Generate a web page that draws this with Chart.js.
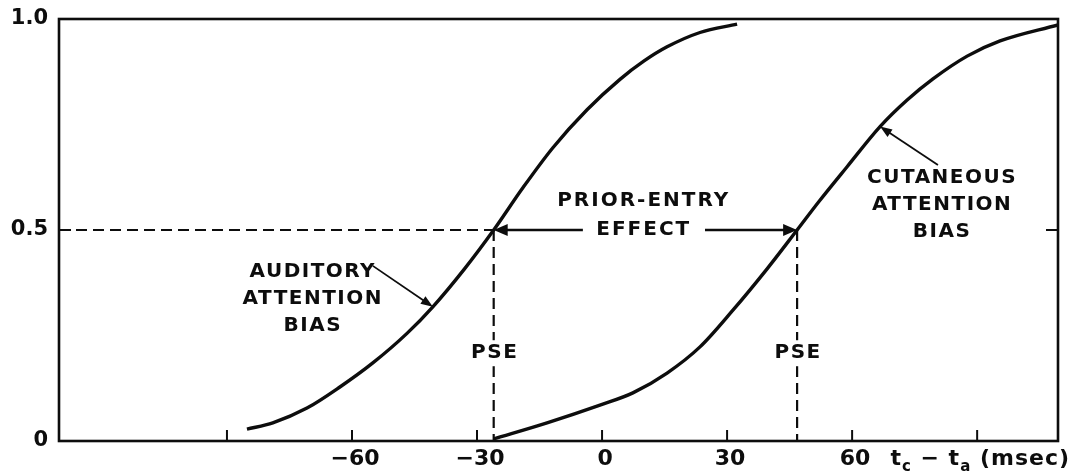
<!DOCTYPE html>
<html>
<head>
<meta charset="utf-8">
<script src="https://cdn.jsdelivr.net/npm/chart.js@4/dist/chart.umd.min.js"></script>
<style>
  html, body { margin: 0; padding: 0; background: #fff; }
  canvas { display: block; }
</style>
</head>
<body>
<canvas id="chart" width="1076" height="476"></canvas>
<script>
// Psychometric functions for temporal-order judgments, t_c - t_a in msec
const auditoryT = [-85.2, -79, -70.8, -62.9, -55, -46.8, -40.6, -33, -26, -19, -11.8, -3.6, 4.3, 10, 15.6, 23.5, 32.4];
const auditoryP = [0.028, 0.043, 0.078, 0.128, 0.185, 0.255, 0.318, 0.408, 0.5, 0.6, 0.695, 0.785, 0.857, 0.9, 0.934, 0.968, 0.988];

const cutaneousT = [-26, -13.2, -0.5, 7.4, 15.6, 23.5, 31.4, 39.6, 46.8, 52, 58.8, 66.7, 73.2, 79.4, 87.6, 95.5, 109.4];
const cutaneousP = [0.005, 0.043, 0.085, 0.114, 0.161, 0.223, 0.31, 0.408, 0.5, 0.567, 0.65, 0.745, 0.808, 0.858, 0.912, 0.948, 0.986];

// Points of subjective equality (msec)
const pseAuditory = -26;
const pseCutaneous = 46.8;

// Axis ticks
const xTickValues = [-90, -60, -30, 0, 30, 60, 90];
const xTickLabels = ['', '\u221260', '\u221230', '0', '30', '60', ''];
const yTickValues = [0, 0.5, 1];
const yTickLabels = ['0', '0.5', '1.0'];

const xRange = [-130.3, 109.4];
const yRange = [0, 1];

// Annotation text
const auditoryLabel = ['AUDITORY', 'ATTENTION', 'BIAS'];
const cutaneousLabel = ['CUTANEOUS', 'ATTENTION', 'BIAS'];
const effectLabel = ['PRIOR-ENTRY', 'EFFECT'];
const pseLabel = 'PSE';

const INK = '#0d0d0d';
const LABEL_FONT = 'bold 20px "DejaVu Sans"';

const toPoints = (xs, ys) => xs.map((x, i) => ({ x, y: ys[i] }));

// Annotation placement (data units) and style
const notes = {
  auditory: { x: -69.4, y: 0.40, lineGap: 27, arrowFrom: [-55, 0.415], arrowTo: [-40.6, 0.318] },
  cutaneous: { x: 81.6, y: 0.623, lineGap: 27, arrowFrom: [80.6, 0.654], arrowTo: [66.7, 0.745] },
  effect: { x: 10.0, y: 0.5, lineGap: 29, leftStart: -4.6, rightStart: 24.7 },
  pse: { y: 0.208 }
};

function setSpacing(ctx, px) {
  if ('letterSpacing' in ctx) ctx.letterSpacing = px + 'px';
}

function drawArrow(ctx, x1, y1, x2, y2, headLen, headHalf, width) {
  const ang = Math.atan2(y2 - y1, x2 - x1);
  ctx.lineWidth = width;
  ctx.beginPath();
  ctx.moveTo(x1, y1);
  ctx.lineTo(x2 - Math.cos(ang) * headLen * 0.6, y2 - Math.sin(ang) * headLen * 0.6);
  ctx.stroke();
  ctx.beginPath();
  ctx.moveTo(x2, y2);
  ctx.lineTo(x2 - Math.cos(ang) * headLen - Math.sin(ang) * headHalf,
             y2 - Math.sin(ang) * headLen + Math.cos(ang) * headHalf);
  ctx.lineTo(x2 - Math.cos(ang) * headLen + Math.sin(ang) * headHalf,
             y2 - Math.sin(ang) * headLen - Math.cos(ang) * headHalf);
  ctx.closePath();
  ctx.fill();
}

function drawLines(ctx, lines, cx, cy, gap) {
  lines.forEach((t, i) => ctx.fillText(t, cx, cy + i * gap));
}

const overlay = {
  id: 'overlay',
  afterDatasetsDraw(chart) {
    const { ctx, chartArea: a, scales: { x, y } } = chart;
    const X = v => x.getPixelForValue(v);
    const Y = v => y.getPixelForValue(v);
    ctx.save();
    ctx.strokeStyle = INK;
    ctx.fillStyle = INK;
    ctx.lineCap = 'butt';

    // frame
    ctx.lineWidth = 2.6;
    ctx.strokeRect(a.left, a.top, a.right - a.left, a.bottom - a.top);

    // inward tick marks
    ctx.lineWidth = 2;
    xTickValues.forEach(v => {
      ctx.beginPath();
      ctx.moveTo(X(v), a.bottom);
      ctx.lineTo(X(v), a.bottom - 11);
      ctx.stroke();
    });
    ctx.beginPath();
    ctx.moveTo(a.left, Y(0.5)); ctx.lineTo(a.left + 12, Y(0.5));
    ctx.moveTo(a.right, Y(0.5)); ctx.lineTo(a.right - 12, Y(0.5));
    ctx.stroke();

    ctx.font = LABEL_FONT;
    ctx.textAlign = 'center';
    ctx.textBaseline = 'middle';
    setSpacing(ctx, 1.5);

    // PSE labels, breaking the dashed verticals
    [pseAuditory, pseCutaneous].forEach(v => {
      const px = X(v), py = Y(notes.pse.y);
      ctx.fillStyle = '#fff';
      ctx.fillRect(px - 26, py - 13, 52, 26);
      ctx.fillStyle = INK;
      ctx.fillText(pseLabel, px + 1, py);
    });

    // prior-entry effect
    setSpacing(ctx, 2);
    const ex = X(notes.effect.x), ey = Y(notes.effect.y);
    drawLines(ctx, effectLabel, ex, ey - notes.effect.lineGap, notes.effect.lineGap);
    drawArrow(ctx, X(notes.effect.leftStart), ey, X(pseAuditory), ey, 14, 6, 2.6);
    drawArrow(ctx, X(notes.effect.rightStart), ey, X(pseCutaneous), ey, 14, 6, 2.6);

    // curve labels with pointers
    setSpacing(ctx, 1.5);
    [[notes.auditory, auditoryLabel], [notes.cutaneous, cutaneousLabel]].forEach(([n, lines]) => {
      drawLines(ctx, lines, X(n.x), Y(n.y), n.lineGap);
      drawArrow(ctx, X(n.arrowFrom[0]), Y(n.arrowFrom[1]), X(n.arrowTo[0]), Y(n.arrowTo[1]), 12, 4.5, 1.8);
    });

    // x-axis title: t_c - t_a (msec)
    const big = 'bold 22px "DejaVu Sans"';
    const small = 'bold 15px "DejaVu Sans"';
    const parts = [
      { t: 't', f: big, dy: 0 }, { t: 'c', f: small, dy: 6 },
      { t: ' \u2212 ', f: big, dy: 0 },
      { t: 't', f: big, dy: 0 }, { t: 'a', f: small, dy: 6 },
      { t: ' (msec)', f: big, dy: 0 }
    ];
    setSpacing(ctx, 1);
    ctx.textAlign = 'left';
    ctx.textBaseline = 'alphabetic';
    let total = 0;
    parts.forEach(p => { ctx.font = p.f; p.w = ctx.measureText(p.t).width; total += p.w; });
    let cx = a.right + 12 - total;
    const base = a.bottom + 24;
    parts.forEach(p => { ctx.font = p.f; ctx.fillText(p.t, cx, base + p.dy); cx += p.w; });

    ctx.restore();
  }
};

const dashStyle = { borderColor: INK, borderWidth: 2.2, borderDash: [11, 6], pointRadius: 0, fill: false, tension: 0 };

new Chart(document.getElementById('chart'), {
  type: 'line',
  data: {
    datasets: [
      { label: 'Auditory attention bias', data: toPoints(auditoryT, auditoryP),
        borderColor: INK, borderWidth: 3.4, pointRadius: 0, fill: false, cubicInterpolationMode: 'monotone' },
      { label: 'Cutaneous attention bias', data: toPoints(cutaneousT, cutaneousP),
        borderColor: INK, borderWidth: 3.4, pointRadius: 0, fill: false, cubicInterpolationMode: 'monotone' },
      { label: '0.5 level', data: [{ x: xRange[0], y: 0.5 }, { x: pseAuditory, y: 0.5 }], ...dashStyle },
      { label: 'PSE auditory', data: [{ x: pseAuditory, y: 0.5 }, { x: pseAuditory, y: 0 }], ...dashStyle },
      { label: 'PSE cutaneous', data: [{ x: pseCutaneous, y: 0.5 }, { x: pseCutaneous, y: 0 }], ...dashStyle }
    ]
  },
  options: {
    responsive: false,
    animation: false,
    layout: { padding: { top: 19, right: 18, left: 0, bottom: 0 } },
    plugins: { legend: { display: false }, tooltip: { enabled: false } },
    scales: {
      x: {
        type: 'linear', min: xRange[0], max: xRange[1],
        afterBuildTicks: s => { s.ticks = xTickValues.map(v => ({ value: v })); },
        afterFit: s => { s.height = 35; s.paddingLeft = 0; s.paddingRight = 0; },
        grid: { display: false, drawTicks: false },
        border: { display: false },
        ticks: {
          autoSkip: false, maxRotation: 0, padding: 5, labelOffset: 3,
          color: INK, font: { family: 'DejaVu Sans', size: 22, weight: 'bold' },
          callback: (v) => xTickLabels[xTickValues.indexOf(v)]
        }
      },
      y: {
        type: 'linear', min: yRange[0], max: yRange[1],
        afterBuildTicks: s => { s.ticks = yTickValues.map(v => ({ value: v })); },
        afterFit: s => { s.width = 59; s.paddingTop = 0; s.paddingBottom = 0; },
        grid: { display: false, drawTicks: false },
        border: { display: false },
        ticks: {
          padding: 11,
          color: INK, font: { family: 'DejaVu Sans', size: 21, weight: 'bold' },
          callback: (v) => yTickLabels[yTickValues.indexOf(v)]
        }
      }
    }
  },
  plugins: [overlay]
});
</script>
</body>
</html>
